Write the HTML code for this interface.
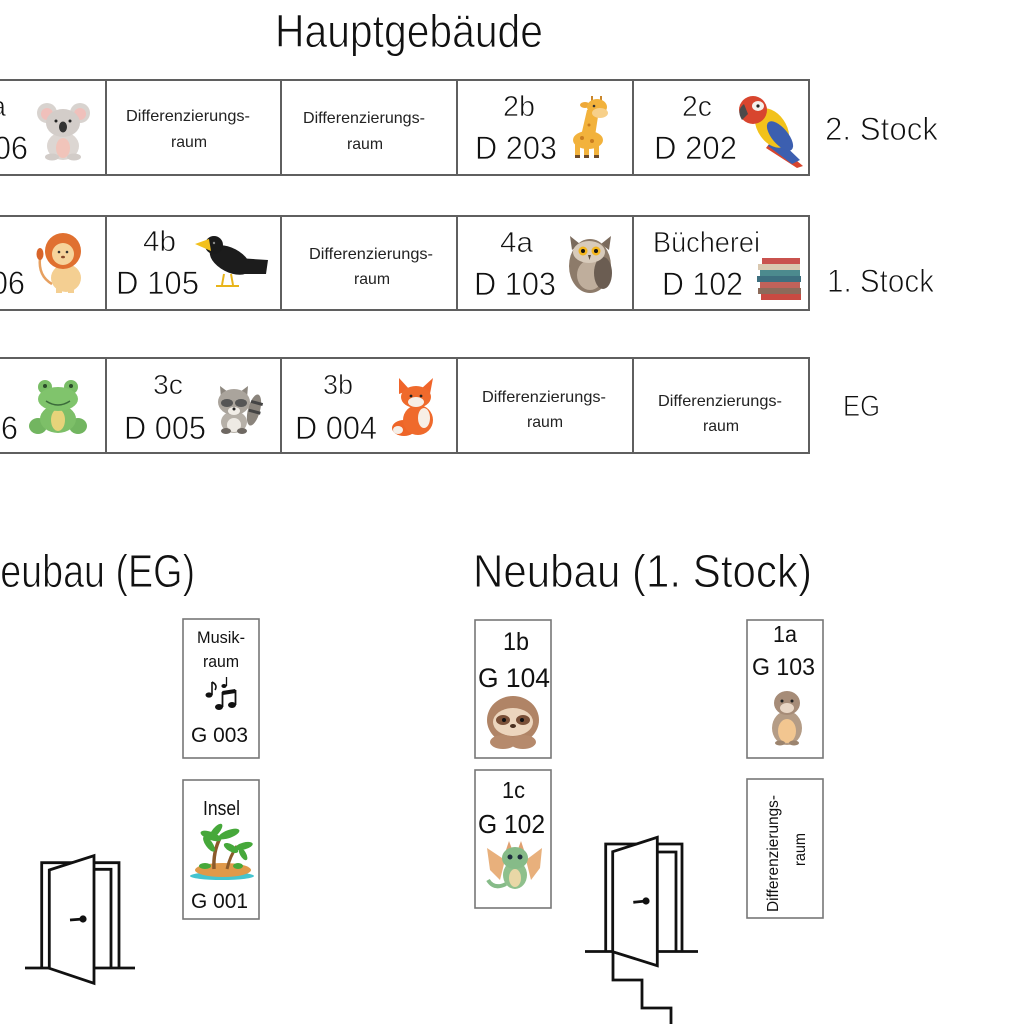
<!DOCTYPE html>
<html><head><meta charset="utf-8"><style>html,body{margin:0;padding:0;background:#fff;width:1024px;height:1024px;overflow:hidden}svg{display:block}</style></head>
<body>
<svg width="1024" height="1024" viewBox="0 0 1024 1024" xmlns="http://www.w3.org/2000/svg" font-family="'Liberation Sans', sans-serif">
<rect width="1024" height="1024" fill="#fff"/>
<g fill="#111" stroke="#fff" stroke-width="0.9">
<text x="275" y="47" font-size="46" textLength="268" lengthAdjust="spacingAndGlyphs">Hauptgebäude</text>
<text x="-27" y="587" font-size="46" textLength="222" lengthAdjust="spacingAndGlyphs">Neubau (EG)</text>
<text x="473" y="587" font-size="46" textLength="339" lengthAdjust="spacingAndGlyphs">Neubau (1. Stock)</text>
<text x="825" y="140" font-size="32" textLength="113" lengthAdjust="spacingAndGlyphs">2. Stock</text>
<text x="827" y="292" font-size="32" textLength="107" lengthAdjust="spacingAndGlyphs">1. Stock</text>
<text x="843" y="416" font-size="30" textLength="37" lengthAdjust="spacingAndGlyphs">EG</text>
</g>
<!-- rows -->
<g fill="#fff" stroke="#5f5f5f" stroke-width="2">
<rect x="-70" y="80" width="176" height="95"/><rect x="106" y="80" width="175" height="95"/><rect x="281" y="80" width="176" height="95"/><rect x="457" y="80" width="176" height="95"/><rect x="633" y="80" width="176" height="95"/>
<rect x="-70" y="216" width="176" height="94"/><rect x="106" y="216" width="175" height="94"/><rect x="281" y="216" width="176" height="94"/><rect x="457" y="216" width="176" height="94"/><rect x="633" y="216" width="176" height="94"/>
<rect x="-70" y="358" width="176" height="95"/><rect x="106" y="358" width="175" height="95"/><rect x="281" y="358" width="176" height="95"/><rect x="457" y="358" width="176" height="95"/><rect x="633" y="358" width="176" height="95"/>
</g>
<g fill="#fff" stroke="#777" stroke-width="1.6">
<rect x="183" y="619" width="76" height="139"/><rect x="183" y="780" width="76" height="139"/>
<rect x="475" y="620" width="76" height="138"/><rect x="475" y="770" width="76" height="138"/>
<rect x="747" y="620" width="76" height="138"/><rect x="747" y="779" width="76" height="139"/>
</g>
<!-- row texts -->
<g fill="#111" stroke="#fff" stroke-width="0.7">
<text x="-25" y="116" font-size="29" textLength="31" lengthAdjust="spacingAndGlyphs">2a</text>
<text x="-54" y="159" font-size="32" textLength="82" lengthAdjust="spacingAndGlyphs">D 206</text>
<text x="503" y="116" font-size="29" textLength="32" lengthAdjust="spacingAndGlyphs">2b</text>
<text x="475" y="159" font-size="32" textLength="82" lengthAdjust="spacingAndGlyphs">D 203</text>
<text x="682" y="116" font-size="29" textLength="30" lengthAdjust="spacingAndGlyphs">2c</text>
<text x="654" y="159" font-size="32" textLength="83" lengthAdjust="spacingAndGlyphs">D 202</text>

<text x="-57" y="294" font-size="32" textLength="82" lengthAdjust="spacingAndGlyphs">D 106</text>
<text x="143" y="251" font-size="29" textLength="33" lengthAdjust="spacingAndGlyphs">4b</text>
<text x="116" y="294" font-size="32" textLength="83" lengthAdjust="spacingAndGlyphs">D 105</text>
<text x="500" y="252" font-size="29" textLength="33" lengthAdjust="spacingAndGlyphs">4a</text>
<text x="474" y="295" font-size="32" textLength="82" lengthAdjust="spacingAndGlyphs">D 103</text>
<text x="653" y="252" font-size="29" textLength="107" lengthAdjust="spacingAndGlyphs">Bücherei</text>
<text x="662" y="295" font-size="32" textLength="81" lengthAdjust="spacingAndGlyphs">D 102</text>

<text x="-64" y="439" font-size="32" textLength="82" lengthAdjust="spacingAndGlyphs">D 006</text>
<text x="153" y="394" font-size="28" textLength="30" lengthAdjust="spacingAndGlyphs">3c</text>
<text x="124" y="439" font-size="32" textLength="82" lengthAdjust="spacingAndGlyphs">D 005</text>
<text x="323" y="394" font-size="28" textLength="30" lengthAdjust="spacingAndGlyphs">3b</text>
<text x="295" y="439" font-size="32" textLength="82" lengthAdjust="spacingAndGlyphs">D 004</text>
</g>
<g fill="#222" font-size="16">
<text x="126" y="121" textLength="124" lengthAdjust="spacingAndGlyphs">Differenzierungs-</text>
<text x="171" y="147" textLength="36" lengthAdjust="spacingAndGlyphs">raum</text>
<text x="303" y="123" textLength="122" lengthAdjust="spacingAndGlyphs">Differenzierungs-</text>
<text x="347" y="149" textLength="36" lengthAdjust="spacingAndGlyphs">raum</text>
<text x="309" y="259" textLength="124" lengthAdjust="spacingAndGlyphs">Differenzierungs-</text>
<text x="354" y="284" textLength="36" lengthAdjust="spacingAndGlyphs">raum</text>
<text x="482" y="402" textLength="124" lengthAdjust="spacingAndGlyphs">Differenzierungs-</text>
<text x="527" y="427" textLength="36" lengthAdjust="spacingAndGlyphs">raum</text>
<text x="658" y="406" textLength="124" lengthAdjust="spacingAndGlyphs">Differenzierungs-</text>
<text x="703" y="431" textLength="36" lengthAdjust="spacingAndGlyphs">raum</text>
</g>
<!-- bottom box texts -->
<g fill="#111">
<text x="197" y="643" font-size="17" textLength="48" lengthAdjust="spacingAndGlyphs">Musik-</text>
<text x="203" y="667" font-size="17" textLength="36" lengthAdjust="spacingAndGlyphs">raum</text>
<text x="191" y="742" font-size="21" textLength="57" lengthAdjust="spacingAndGlyphs">G 003</text>
<text x="203" y="815" font-size="20" textLength="37" lengthAdjust="spacingAndGlyphs">Insel</text>
<text x="191" y="908" font-size="21" textLength="57" lengthAdjust="spacingAndGlyphs">G 001</text>
<text x="503" y="650" font-size="25" textLength="26" lengthAdjust="spacingAndGlyphs">1b</text>
<text x="478" y="687" font-size="27" textLength="72" lengthAdjust="spacingAndGlyphs">G 104</text>
<text x="502" y="798" font-size="23" textLength="23" lengthAdjust="spacingAndGlyphs">1c</text>
<text x="478" y="833" font-size="26" textLength="67" lengthAdjust="spacingAndGlyphs">G 102</text>
<text x="773" y="642" font-size="23" textLength="24" lengthAdjust="spacingAndGlyphs">1a</text>
<text x="752" y="675" font-size="24" textLength="63" lengthAdjust="spacingAndGlyphs">G 103</text>
<text transform="translate(778,912) rotate(-90)" font-size="16" textLength="117" lengthAdjust="spacingAndGlyphs">Differenzierungs-</text>
<text transform="translate(805,866) rotate(-90)" font-size="16" textLength="33" lengthAdjust="spacingAndGlyphs">raum</text>
</g>

<!-- Koala -->
<g>
<circle cx="47" cy="113" r="10" fill="#d8d3cf"/><circle cx="47" cy="114" r="6" fill="#f0c0bb"/>
<circle cx="80" cy="113" r="10" fill="#d8d3cf"/><circle cx="80" cy="114" r="6" fill="#f0c0bb"/>
<ellipse cx="63" cy="146" rx="16" ry="14" fill="#dcd6d2"/>
<ellipse cx="63" cy="148" rx="7" ry="10" fill="#f1c4ba"/>
<ellipse cx="63" cy="123" rx="17" ry="14" fill="#d3cdc9"/>
<ellipse cx="63" cy="127" rx="4" ry="5.5" fill="#333"/>
<circle cx="56" cy="121" r="1.5" fill="#222"/><circle cx="70" cy="121" r="1.5" fill="#222"/>
<ellipse cx="52" cy="157" rx="7" ry="3.5" fill="#d2ccc8"/><ellipse cx="74" cy="157" rx="7" ry="3.5" fill="#d2ccc8"/>
</g>
<!-- Giraffe -->
<g>
<line x1="592" y1="96" x2="592" y2="102" stroke="#c9862c" stroke-width="2"/><line x1="601" y1="96" x2="601" y2="102" stroke="#c9862c" stroke-width="2"/>
<ellipse cx="585" cy="105" rx="5" ry="3" fill="#eea93a"/>
<polygon points="587,110 599,110 595,136 581,136" fill="#f2b23c"/>
<ellipse cx="597" cy="107" rx="10" ry="8" fill="#f2b23c"/>
<ellipse cx="600" cy="113" rx="8" ry="5" fill="#f7d08a"/>
<circle cx="594" cy="106" r="1.3" fill="#333"/>
<ellipse cx="588" cy="140" rx="15" ry="9" fill="#f2b23c"/>
<rect x="575" y="144" width="5" height="13" fill="#f2b23c"/><rect x="584" y="144" width="5" height="13" fill="#f2b23c"/><rect x="594" y="144" width="5" height="13" fill="#f2b23c"/>
<rect x="575" y="155" width="5" height="3" fill="#6b4a2a"/><rect x="584" y="155" width="5" height="3" fill="#6b4a2a"/><rect x="594" y="155" width="5" height="3" fill="#6b4a2a"/>
<circle cx="582" cy="138" r="2" fill="#c97d20"/><circle cx="592" cy="141" r="2" fill="#c97d20"/><circle cx="589" cy="125" r="1.5" fill="#c97d20"/>
</g>
<!-- Parrot -->
<g>
<polygon points="772,140 803,166 797,168 766,148" fill="#d8452e"/>
<polygon points="775,136 800,160 792,164 768,146" fill="#3c5fb0"/>
<ellipse cx="772" cy="128" rx="14" ry="22" transform="rotate(-35 772 128)" fill="#f2c21b"/>
<ellipse cx="780" cy="136" rx="8" ry="18" transform="rotate(-40 780 136)" fill="#3c5fb0"/>
<circle cx="753" cy="110" r="14" fill="#d8452e"/>
<ellipse cx="758" cy="106" rx="6" ry="5" fill="#f4f0ea"/>
<circle cx="758" cy="106" r="1.6" fill="#222"/>
<path d="M744,104 Q736,110 742,120 L748,114 Z" fill="#4a4a4a"/>
</g>
<!-- Lion -->
<g>
<path d="M52,284 Q38,276 40,258" stroke="#e7a060" stroke-width="2.5" fill="none"/>
<ellipse cx="40" cy="254" rx="3.5" ry="6" fill="#d8642a"/>
<ellipse cx="66" cy="278" rx="15" ry="14" fill="#f4cf92"/>
<rect x="56" y="282" width="6" height="11" fill="#f4cf92"/><rect x="68" y="282" width="6" height="11" fill="#f4cf92"/>
<circle cx="63" cy="251" r="18" fill="#e07030"/>
<circle cx="63" cy="254" r="11" fill="#f6d49b"/>
<circle cx="59" cy="252" r="1.3" fill="#333"/><circle cx="67" cy="252" r="1.3" fill="#333"/>
<ellipse cx="63" cy="257" rx="2" ry="1.3" fill="#8a4a2a"/>
</g>
<!-- Raven -->
<g>
<polygon points="238,258 268,260 266,274 244,274" fill="#1c1c1c"/>
<ellipse cx="230" cy="260" rx="22" ry="12" transform="rotate(28 230 260)" fill="#1c1c1c"/>
<circle cx="214" cy="245" r="9" fill="#1a1a1a"/>
<polygon points="195,244 209,239 211,251" fill="#f2c01c"/>
<circle cx="214" cy="243" r="1.2" fill="#888"/>
<line x1="224" y1="274" x2="222" y2="285" stroke="#e8b41a" stroke-width="2"/>
<line x1="231" y1="274" x2="233" y2="285" stroke="#e8b41a" stroke-width="2"/>
<line x1="216" y1="286" x2="239" y2="286" stroke="#e8b41a" stroke-width="2"/>
</g>
<!-- Owl -->
<g>
<polygon points="570,236 580,244 572,250" fill="#7a6a5c"/><polygon points="611,236 601,244 609,250" fill="#7a6a5c"/>
<ellipse cx="590" cy="266" rx="21" ry="27" fill="#8d7b6a"/>
<ellipse cx="590" cy="275" rx="13" ry="15" fill="#bfae9c"/>
<ellipse cx="603" cy="273" rx="9" ry="16" fill="#6b5d52"/>
<ellipse cx="589" cy="252" rx="16" ry="11" fill="#d8cbbb"/>
<circle cx="583" cy="251" r="4.5" fill="#f3b51d"/><circle cx="596" cy="251" r="4.5" fill="#f3b51d"/>
<circle cx="583" cy="251" r="2" fill="#111"/><circle cx="596" cy="251" r="2" fill="#111"/>
<polygon points="588,255 591,255 589.5,260" fill="#5a4a3a"/>
</g>
<!-- Books -->
<g>
<rect x="762" y="258" width="38" height="6" fill="#c9524e"/>
<rect x="758" y="264" width="42" height="6" fill="#d9c8b0"/>
<rect x="760" y="270" width="40" height="6" fill="#4c8a8e"/>
<rect x="757" y="276" width="44" height="6" fill="#3d6f7f"/>
<rect x="760" y="282" width="40" height="6" fill="#c0625a"/>
<rect x="758" y="288" width="43" height="6" fill="#8b6a5a"/>
<rect x="761" y="294" width="40" height="6" fill="#c84a42"/>
</g>
<!-- Frog -->
<g>
<ellipse cx="38" cy="426" rx="9" ry="8" fill="#72b560"/><ellipse cx="78" cy="426" rx="9" ry="8" fill="#72b560"/>
<ellipse cx="58" cy="419" rx="18" ry="14" fill="#7dbf68"/>
<ellipse cx="58" cy="420" rx="7" ry="11" fill="#e6d37a"/>
<circle cx="45" cy="387" r="7" fill="#79bd66"/><circle cx="71" cy="387" r="7" fill="#79bd66"/>
<ellipse cx="58" cy="399" rx="20" ry="12" fill="#80c46c"/>
<circle cx="45" cy="386" r="2" fill="#2a4a2a"/><circle cx="71" cy="386" r="2" fill="#2a4a2a"/>
<path d="M46,401 Q58,409 70,401" stroke="#3b6b3b" stroke-width="1.5" fill="none"/>
</g>
<!-- Raccoon -->
<g>
<ellipse cx="254" cy="410" rx="6" ry="16" transform="rotate(15 254 410)" fill="#8a847c"/>
<rect x="249" y="401" width="12" height="3" fill="#444" transform="rotate(15 254 410)"/>
<rect x="249" y="410" width="12" height="3" fill="#444" transform="rotate(15 254 410)"/>
<ellipse cx="234" cy="422" rx="13" ry="11" fill="#b6b0a8"/>
<ellipse cx="234" cy="425" rx="7" ry="7" fill="#eeeae4"/>
<polygon points="220,386 228,392 221,398" fill="#8d877f"/><polygon points="248,386 240,392 247,398" fill="#8d877f"/>
<ellipse cx="234" cy="402" rx="16" ry="13" fill="#aaa49c"/>
<ellipse cx="227" cy="403" rx="6" ry="4" fill="#555"/><ellipse cx="241" cy="403" rx="6" ry="4" fill="#555"/>
<ellipse cx="234" cy="411" rx="6" ry="4" fill="#f1ede7"/>
<circle cx="234" cy="409" r="1.5" fill="#222"/>
<ellipse cx="226" cy="431" rx="5" ry="3" fill="#6e6862"/><ellipse cx="242" cy="431" rx="5" ry="3" fill="#6e6862"/>
</g>
<!-- Fox -->
<g>
<ellipse cx="404" cy="428" rx="12" ry="8" fill="#ee6528"/>
<ellipse cx="398" cy="430" rx="5" ry="4" fill="#f5efe8"/>
<ellipse cx="418" cy="420" rx="15" ry="15" fill="#ef6a2c"/>
<ellipse cx="424" cy="418" rx="6" ry="10" fill="#f7efe6"/>
<polygon points="399,378 410,390 399,394" fill="#f0642a"/><polygon points="433,378 430,394 421,389" fill="#f0642a"/>
<ellipse cx="416" cy="397" rx="15" ry="11" fill="#ef6a2c"/>
<ellipse cx="416" cy="402" rx="8" ry="5" fill="#f6eee6"/>
<circle cx="411" cy="396" r="1.4" fill="#222"/><circle cx="421" cy="396" r="1.4" fill="#222"/>
</g>
<!-- Notes -->
<g fill="#111" stroke="#111">
<ellipse cx="209" cy="695" rx="3.5" ry="2.6" stroke="none"/>
<line x1="212" y1="695" x2="212" y2="682" stroke-width="1.6"/>
<path d="M212,682 Q218,685 215,690" fill="none" stroke-width="1.6"/>
<ellipse cx="224" cy="686" rx="2.6" ry="2" stroke="none"/>
<line x1="226.5" y1="686" x2="226.5" y2="677" stroke-width="1.3"/>
<ellipse cx="219" cy="707" rx="4" ry="3" stroke="none"/>
<ellipse cx="232" cy="705" rx="4" ry="3" stroke="none"/>
<line x1="222.5" y1="707" x2="222.5" y2="692" stroke-width="1.8"/>
<line x1="235.5" y1="705" x2="235.5" y2="690" stroke-width="1.8"/>
<line x1="222.5" y1="693" x2="235.5" y2="691" stroke-width="4"/>
</g>
<!-- Palm island -->
<g>
<ellipse cx="222" cy="876" rx="32" ry="4" fill="#45c4cf"/>
<ellipse cx="223" cy="870" rx="28" ry="7" fill="#e0994a"/>
<path d="M214,869 Q213,852 220,838" stroke="#8b5a2b" stroke-width="3.5" fill="none"/>
<path d="M227,869 Q230,856 237,846" stroke="#8b5a2b" stroke-width="3" fill="none"/>
<g fill="#46a83a">
<ellipse cx="211" cy="836" rx="11" ry="4" transform="rotate(20 211 836)"/>
<ellipse cx="229" cy="834" rx="11" ry="4" transform="rotate(-20 229 834)"/>
<ellipse cx="216" cy="831" rx="9" ry="3.5" transform="rotate(-50 216 831)"/>
<ellipse cx="209" cy="844" rx="9" ry="3.5" transform="rotate(55 209 844)"/>
<ellipse cx="244" cy="846" rx="9" ry="3.5" transform="rotate(-15 244 846)"/>
<ellipse cx="231" cy="848" rx="8" ry="3.5" transform="rotate(30 231 848)"/>
<ellipse cx="243" cy="854" rx="7" ry="3" transform="rotate(60 243 854)"/>
<ellipse cx="205" cy="866" rx="6" ry="3"/>
<ellipse cx="238" cy="866" rx="5" ry="3"/>
</g>
</g>
<!-- Sloth -->
<g>
<ellipse cx="513" cy="720" rx="26" ry="24" fill="#b08466"/>
<ellipse cx="513" cy="722" rx="20" ry="14" fill="#ecd5bd"/>
<ellipse cx="503" cy="720" rx="7" ry="5" fill="#7a5038"/><ellipse cx="523" cy="720" rx="7" ry="5" fill="#7a5038"/>
<circle cx="504" cy="720" r="2" fill="#111"/><circle cx="522" cy="720" r="2" fill="#111"/>
<ellipse cx="513" cy="726" rx="3" ry="2" fill="#4a3020"/>
<ellipse cx="503" cy="742" rx="13" ry="7" fill="#b68a6c"/><ellipse cx="523" cy="742" rx="13" ry="7" fill="#b68a6c"/>
</g>
<!-- Otter -->
<g>
<ellipse cx="787" cy="728" rx="15" ry="17" fill="#b49c86"/>
<ellipse cx="787" cy="731" rx="9" ry="12" fill="#f2c690"/>
<ellipse cx="787" cy="703" rx="13" ry="12" fill="#a68c78"/>
<ellipse cx="787" cy="708" rx="7" ry="5" fill="#e8d6c5"/>
<circle cx="782" cy="701" r="1.5" fill="#222"/><circle cx="792" cy="701" r="1.5" fill="#222"/>
<ellipse cx="780" cy="743" rx="5" ry="2.5" fill="#9c846e"/><ellipse cx="794" cy="743" rx="5" ry="2.5" fill="#9c846e"/>
</g>
<!-- Dragon -->
<g>
<polygon points="487,848 505,860 500,880 490,870" fill="#e8b07c"/>
<polygon points="542,848 526,860 531,880 540,868" fill="#e8b07c"/>
<path d="M506,884 Q494,890 488,880" stroke="#86bb88" stroke-width="4" fill="none"/>
<ellipse cx="515" cy="875" rx="12" ry="14" fill="#8fc08c"/>
<ellipse cx="515" cy="878" rx="6" ry="9" fill="#e9d7a6"/>
<polygon points="506,850 509,841 512,849" fill="#e0a070"/><polygon points="524,850 521,841 518,849" fill="#e0a070"/>
<ellipse cx="515" cy="858" rx="13" ry="11" fill="#86bb88"/>
<circle cx="510" cy="857" r="2.5" fill="#1e2e3e"/><circle cx="520" cy="857" r="2.5" fill="#1e2e3e"/>
</g>
<!-- Doors -->
<g stroke="#111" stroke-width="2.8" fill="none" stroke-linejoin="miter">
<line x1="25" y1="968" x2="135" y2="968"/>
<polyline points="41.7,968 41.7,862.7 119,862.7 119,968"/>
<polyline points="94,869.3 111,869.3 111,968"/>
<polygon points="49.3,870 94,855.7 94,983.3 49.3,968.3" fill="#fff"/>
<line x1="70" y1="920" x2="83" y2="919"/>
<line x1="585" y1="951.5" x2="698" y2="951.5"/>
<polyline points="605.7,951.5 605.7,844 682,844 682,951.5"/>
<polyline points="657,852 676,852 676,951.5"/>
<polygon points="612.7,851.7 657.3,837.3 657.3,965.7 612.7,951.7" fill="#fff"/>
<line x1="633.3" y1="902.3" x2="646" y2="901"/>
<polyline points="613,952 613,980 642,980 642,1008 671,1008 671,1026"/>
</g>
<circle cx="83" cy="919" r="3.6" fill="#111"/>
<circle cx="646" cy="901" r="3.6" fill="#111"/>
</svg>
</body></html>
